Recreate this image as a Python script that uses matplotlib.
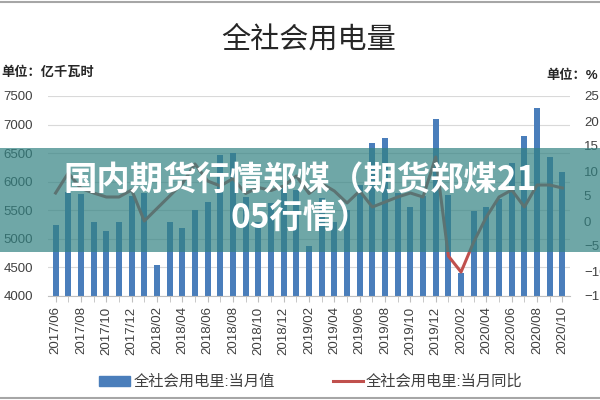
import matplotlib
matplotlib.use("Agg")
import matplotlib.pyplot as plt
from matplotlib.patches import Rectangle
from matplotlib.lines import Line2D
import numpy as np

plt.rcParams['font.family'] = ['Liberation Sans', 'Noto Sans CJK SC', 'DejaVu Sans']

months = []
for y in range(2017, 2021):
    for m in range(1, 13):
        if (y == 2017 and m < 6) or (y == 2020 and m > 10):
            continue
        months.append(f"{y}/{m:02d}")

consumption = [5250, 5820, 5790, 5300, 5130, 5300, 5750,
               5800, 4540, 5300, 5190, 5505, 5645, 6470, 6500, 5730, 5300, 5620, 5900,
               5850, 4875, 5715, 5300, 5500, 5950, 6680, 6765, 5800, 5550, 5750, 7100,
               5770, 4400, 5490, 5560, 5700, 6330, 6800, 7290, 6430, 6170]
yoy = [5.6, 9.6, 6.5, 5.6, 4.8, 4.8, 6.2,
       0.0, 2.5, 5.0, 7.5, 11.4, 8.0, 7.0, 8.5, 5.5, 6.7, 6.1, 7.0,
       9.0, 5.5, 7.5, 6.0, 3.6, 6.0, 2.8, 3.8, 4.8, 5.6, 4.8, 12.8,
       -7.0, -10.2, -4.2, 0.8, 4.8, 6.2, 2.8, 7.2, 7.2, 6.6]

title = "全社会用电量"
left_unit = "单位：亿千瓦时"
right_unit = "单位：%"
bar_label = "全社会用电里:当月值"
line_label = "全社会用电里:当月同比"
banner_line1 = "国内期货行情郑煤（期货郑煤21"
banner_line2 = "05行情）"

fig = plt.figure(figsize=(6, 4), dpi=100)
ax = fig.add_axes([0.08, 0.26, 0.87, 0.50])
ax2 = ax.twinx()

x = np.arange(len(months))
ax.bar(x, consumption, width=0.47, color='#4a7ebb', zorder=2)
ax.set_ylim(4000, 7500)
ax.set_yticks(np.arange(4000, 7501, 500))
ax.set_xlim(-0.6, len(months) - 0.4)
ax.grid(axis='y', color='#d9d9d9', linewidth=0.8, zorder=0)
ax.set_axisbelow(True)

ax2.plot(x, yoy, color='#c0504d', linewidth=2.2, zorder=3)
ax2.set_ylim(-15, 25)
ax2.set_yticks(np.arange(-15, 26, 5))

for a in (ax, ax2):
    for s in a.spines.values():
        s.set_visible(False)
ax.spines['bottom'].set_visible(True)
ax.spines['bottom'].set_color('#bfbfbf')

ax.set_xticks(x[::2])
ax.set_xticklabels(months[::2], rotation=90, fontsize=9.5, color='#404040')
ax.set_xticks(x[1::2], minor=True)
ax.tick_params(axis='x', which='both', length=4, color='#bfbfbf', direction='out')
ax.tick_params(axis='y', length=0, labelsize=9.5, labelcolor='#404040', pad=11)
ax2.tick_params(axis='y', length=0, labelsize=9.5, labelcolor='#404040', pad=10)

fig.text(0.515, 0.90, title, ha='center', va='center', fontsize=21,
         family=['Noto Sans CJK SC'], color='#262626')
fig.text(0.003, 0.818, left_unit, ha='left', va='center', fontsize=9.5,
         fontweight='bold', color='#262626')
fig.text(0.997, 0.81, right_unit, ha='right', va='center', fontsize=9.5,
         fontweight='bold', color='#262626')

# legend
fig.patches.append(Rectangle((0.165, 0.035), 0.052, 0.024, transform=fig.transFigure,
                             color='#4a7ebb', figure=fig))
fig.text(0.222, 0.047, bar_label, ha='left', va='center', fontsize=11, color='#404040')
fig.lines.append(Line2D([0.555, 0.605], [0.047, 0.047], transform=fig.transFigure,
                        color='#c0504d', linewidth=2.2, figure=fig))
fig.text(0.61, 0.047, line_label, ha='left', va='center', fontsize=11, color='#404040')

# frame lines
fig.lines.append(Line2D([0, 1], [0.995, 0.995], transform=fig.transFigure,
                        color='#a6a6a6', linewidth=1.5, figure=fig))
fig.lines.append(Line2D([0, 1], [0.006, 0.006], transform=fig.transFigure,
                        color='#a6a6a6', linewidth=1.5, figure=fig))

# banner overlay
fig.patches.append(Rectangle((0, 0.37), 1, 0.26, transform=fig.transFigure,
                             facecolor='#328282', alpha=0.7, edgecolor='none',
                             zorder=5, figure=fig))
fig.text(0.5, 0.548, banner_line1, ha='center', va='center', fontsize=24,
         fontweight='bold', color='white', zorder=6,
         family=['Noto Sans CJK SC', 'DejaVu Sans'])
fig.text(0.5, 0.452, banner_line2, ha='center', va='center', fontsize=24,
         fontweight='bold', color='white', zorder=6,
         family=['Noto Sans CJK SC', 'DejaVu Sans'])

fig.savefig('out.png', dpi=100)
